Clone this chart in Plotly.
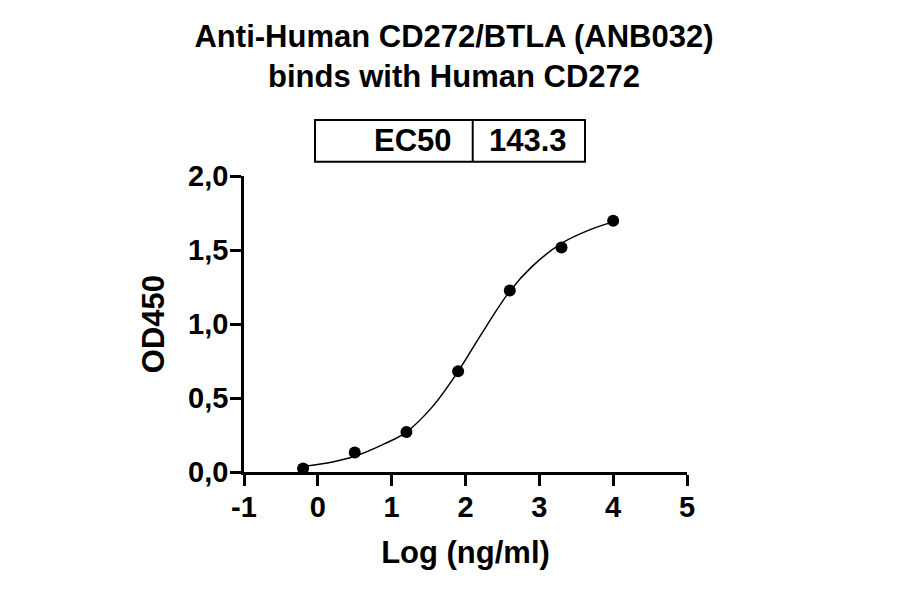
import plotly.graph_objects as go

# measured points (log concentration vs OD450)
log_conc = [-0.2, 0.5, 1.2, 1.9, 2.6, 3.3, 4.0]
od450 = [0.023, 0.131, 0.271, 0.680, 1.226, 1.517, 1.697]

# fitted curve
curve_x = [-0.2, 0.2, 0.5, 0.9, 1.2, 1.55, 1.9, 2.2, 2.6, 2.9, 3.3, 3.68, 4.0]
curve_y = [0.038, 0.068, 0.106, 0.19, 0.27, 0.44, 0.68, 0.92, 1.222, 1.388, 1.545, 1.636, 1.69]

x_ticks = [-1, 0, 1, 2, 3, 4, 5]
x_tick_labels = ["-1", "0", "1", "2", "3", "4", "5"]
y_ticks = [0, 0.5, 1.0, 1.5, 2.0]
y_tick_labels = ["0,0", "0,5", "1,0", "1,5", "2,0"]

ec50_label = "EC50"
ec50_value = "143.3"

FONT = "Liberation Sans, Arial, sans-serif"

fig = go.Figure()

fig.add_trace(go.Scatter(
    x=curve_x, y=curve_y,
    mode="lines",
    line=dict(color="black", width=1.5, shape="spline", smoothing=1.0),
    hoverinfo="skip",
    showlegend=False,
))

fig.add_trace(go.Scatter(
    x=log_conc, y=od450,
    mode="markers",
    marker=dict(color="black", size=12),
    cliponaxis=False,
    showlegend=False,
))

axis_common = dict(
    showline=True, linecolor="black", linewidth=2.5,
    ticks="outside", ticklen=11, tickwidth=2.5, tickcolor="black",
    showgrid=False, zeroline=False, ticklabelstandoff=-4,
    tickfont=dict(family=FONT, size=29, color="black", weight="bold"),
)

fig.update_xaxes(
    range=[-1, 5], tickvals=x_ticks, ticktext=x_tick_labels,
    title=dict(text="Log (ng/ml)", standoff=20,
               font=dict(family=FONT, size=31, color="black", weight="bold")),
    **axis_common,
)
fig.update_yaxes(
    range=[0, 2], tickvals=y_ticks, ticktext=y_tick_labels,
    title=dict(text="OD450", standoff=15,
               font=dict(family=FONT, size=31, color="black", weight="bold")),
    **axis_common,
)

# EC50 box above the plot
box_left, box_mid, box_right = 0.1603, 0.5163, 0.7698
box_bottom, box_top = 1.048, 1.189
box_font = dict(family=FONT, size=31, color="black", weight="bold")
fig.add_shape(type="rect", xref="paper", yref="paper",
              x0=box_left, x1=box_right, y0=box_bottom, y1=box_top,
              line=dict(color="black", width=2))
fig.add_shape(type="line", xref="paper", yref="paper",
              x0=box_mid, x1=box_mid, y0=box_bottom, y1=box_top,
              line=dict(color="black", width=2))
fig.add_annotation(x=0.474, y=(box_top + box_bottom) / 2,
                   xref="paper", yref="paper", text=ec50_label,
                   showarrow=False, xanchor="right", yanchor="middle",
                   font=box_font)
fig.add_annotation(x=0.642, y=(box_top + box_bottom) / 2,
                   xref="paper", yref="paper", text=ec50_value,
                   showarrow=False, xanchor="center", yanchor="middle",
                   font=box_font)

fig.update_layout(
    width=892, height=586,
    margin=dict(l=236, r=213, t=168, b=122),
    paper_bgcolor="white", plot_bgcolor="white",
    title=dict(
        text="Anti-Human CD272/BTLA (ANB032)<br>binds with Human CD272",
        x=0.5, xref="container", xanchor="center",
        y=0.9335, yref="container", yanchor="top",
        font=dict(family=FONT, size=31, color="black", weight="bold"),
    ),
)

fig.write_html("out.html")
